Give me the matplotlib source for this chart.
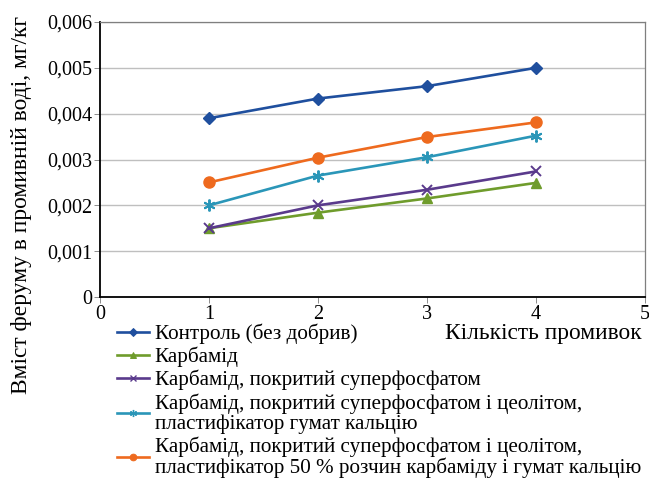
import matplotlib
matplotlib.use("Agg")
import matplotlib.pyplot as plt
from matplotlib.lines import Line2D

plt.rcParams['font.family'] = ['Liberation Serif', 'DejaVu Serif']

washes = [1, 2, 3, 4]

control = [0.0039, 0.00433, 0.0046, 0.0050]
carbamide = [0.0015, 0.00184, 0.00215, 0.00249]
carb_superphos = [0.0015, 0.0020, 0.00234, 0.00274]
carb_zeolite_humate = [0.0020, 0.00265, 0.00305, 0.00352]
carb_zeolite_solution = [0.0025, 0.00304, 0.00349, 0.00381]

labels = [
    "Контроль (без добрив)",
    "Карбамід",
    "Карбамід, покритий суперфосфатом",
    "Карбамід, покритий суперфосфатом і цеолітом,\nпластифікатор гумат кальцію",
    "Карбамід, покритий суперфосфатом і цеолітом,\nпластифікатор 50 % розчин карбаміду і гумат кальцію",
]

x_ticks = [0, 1, 2, 3, 4, 5]
y_ticks = [0, 0.001, 0.002, 0.003, 0.004, 0.005, 0.006]
y_tick_labels = ["0", "0,001", "0,002", "0,003", "0,004", "0,005", "0,006"]

series = [control, carbamide, carb_superphos, carb_zeolite_humate, carb_zeolite_solution]
colors = ["#1F4F9E", "#6F9C2C", "#5A3A8C", "#2A96B8", "#EE6A1E"]
markers = ["D", "^", "x", (6, 2, 0), "o"]
msizes = [6.5, 7.5, 7.5, 8.5, 8]

fig = plt.figure(figsize=(6.49, 4.84), dpi=100)
ax = fig.add_axes([100 / 649, 1 - 297 / 484, 545 / 649, 275 / 484])

handles = []
for vals, c, m, ms, lab in zip(series, colors, markers, msizes, labels):
    mew = 1.4 if m in ("x", (6, 2, 0)) else 1.0
    ax.plot(washes, vals, color=c, lw=1.9, marker=m, markersize=ms,
            markeredgewidth=mew, markerfacecolor=c, markeredgecolor=c, zorder=3)
    handles.append(Line2D([0], [0], color=c, lw=1.9, marker=m,
                          markersize=ms * 0.6, markeredgewidth=mew * 0.7,
                          markerfacecolor=c, markeredgecolor=c))

ax.set_xlim(0, 5)
ax.set_ylim(0, 0.006)
ax.set_xticks(x_ticks)
ax.set_xticklabels([str(t) for t in x_ticks])
ax.set_yticks(y_ticks)
ax.set_yticklabels(y_tick_labels)
ax.tick_params(axis='both', labelsize=14.5, length=4.3, width=0.7,
               direction='out', pad=1.5, color='#8C8C8C')
ax.grid(axis='y', color='#BFBFBF', lw=1.0, zorder=0)
ax.set_axisbelow(True)

for side in ('left', 'bottom'):
    ax.spines[side].set_color('black')
    ax.spines[side].set_linewidth(1.3)
for side in ('top', 'right'):
    ax.spines[side].set_color('#7F7F7F')
    ax.spines[side].set_linewidth(0.9)

fig.text(22 / 649, 1 - 205 / 484, "Вміст феруму в промивній воді, мг/кг",
         rotation=90, ha='center', va='center', fontsize=16.9)
fig.text(642 / 649, 1 - 339 / 484, "Кількість промивок",
         ha='right', va='baseline', fontsize=16.8)

leg = fig.legend(handles=handles, labels=labels, loc='upper left',
                 bbox_to_anchor=(117 / 649, 1 - 323.5 / 484), frameon=False,
                 fontsize=15.2, handlelength=1.52, handletextpad=0.27,
                 labelspacing=0.13, borderpad=0, borderaxespad=0)
for t in leg.get_texts():
    t.set_linespacing(1.05)

fig.savefig("out.png", dpi=100)
